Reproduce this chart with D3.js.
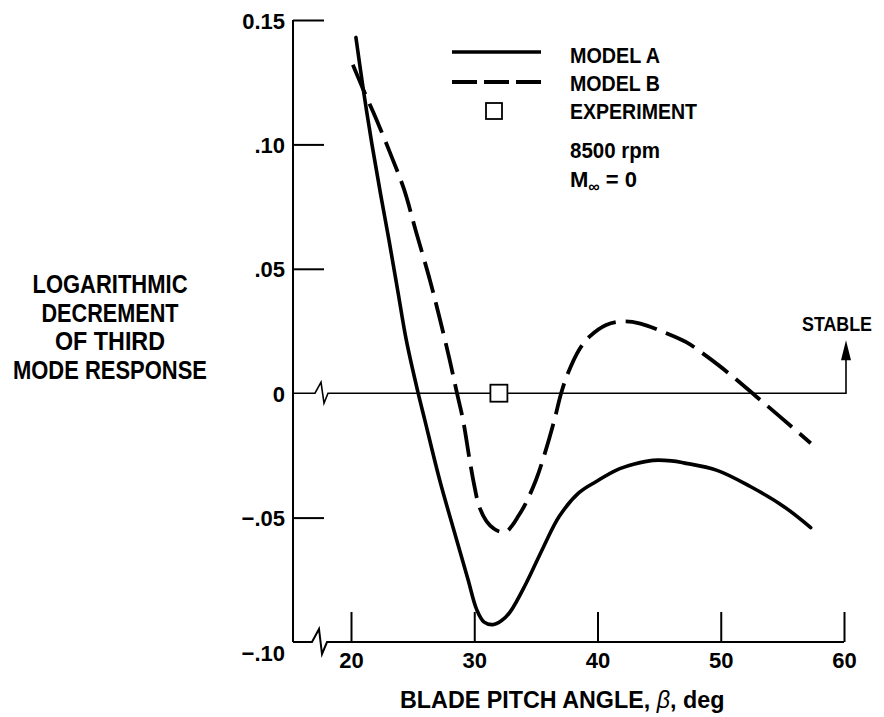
<!DOCTYPE html>
<html>
<head>
<meta charset="utf-8">
<script src="https://cdn.jsdelivr.net/npm/d3@7/dist/d3.min.js"></script>
<style>
  html, body { margin: 0; padding: 0; background: #fff; }
  svg { display: block; }
  text { font-family: 'Liberation Sans Narrow', 'Arial Narrow', 'Liberation Sans', Arial, sans-serif; font-weight: bold; fill: #000; }
</style>
</head>
<body>
<svg id="chart" width="884" height="717"></svg>
<script>
// ---------------- data ----------------
const xTicks = [20, 30, 40, 50, 60];
const xTickLabels = ["20", "30", "40", "50", "60"];
const yTicks = [0.15, 0.10, 0.05, 0, -0.05, -0.10];
const yTickLabels = ["0.15", ".10", ".05", "0", "\u2212.05", "\u2212.10"];

const modelAX = [20.4, 21.0, 21.7, 22.4, 23.1, 23.8, 24.5, 25.45, 26.0, 27.2, 28.4, 29.5, 30.2, 30.8, 31.5, 32.2, 32.9, 34.2, 35.6, 36.9, 38.5, 39.9, 41.5, 43.0, 44.5, 46.0, 47.0, 49.7, 52.4, 55.1, 57.3];
const modelAY = [0.143, 0.122, 0.100, 0.080, 0.061, 0.041, 0.021, 0.0, -0.011, -0.035, -0.056, -0.075, -0.087, -0.092, -0.093, -0.0915, -0.088, -0.0765, -0.062, -0.0495, -0.040, -0.0355, -0.031, -0.0285, -0.027, -0.0272, -0.028, -0.031, -0.0375, -0.0455, -0.054];

const modelBX = [20.15, 21.0, 21.8, 22.4, 23.3, 24.3, 25.3, 26.4, 27.2, 28.0, 28.6, 29.1, 29.6, 30.0, 30.4, 31.0, 31.6, 32.1, 32.6, 33.1, 33.55, 34.1, 35.0, 35.8, 36.5, 37.05, 37.6, 38.5, 39.35, 40.7, 41.9, 43.4, 45.6, 47.2, 48.9, 51.0, 52.9, 54.8, 57.3];
const modelBY = [0.132, 0.122, 0.113, 0.106, 0.095, 0.082, 0.0645, 0.0455, 0.030, 0.0135, 0.0, -0.011, -0.026, -0.037, -0.0455, -0.0515, -0.0545, -0.0557, -0.0557, -0.053, -0.0496, -0.045, -0.035, -0.023, -0.0108, 0.0, 0.008, 0.0174, 0.0227, 0.0274, 0.0288, 0.0281, 0.0241, 0.0205, 0.0147, 0.0066, -0.0014, -0.0094, -0.0201];

const experimentX = [32.0];
const experimentY = [0.0];

const legendLabels = ["MODEL A", "MODEL B", "EXPERIMENT"];
const conditionLabels = ["8500 rpm"];
const yTitleLines = ["LOGARITHMIC", "DECREMENT", "OF THIRD", "MODE RESPONSE"];
const xTitleParts = ["BLADE PITCH ANGLE, ", "\u03B2", ", deg"];

// ---------------- chart ----------------
const svg = d3.select("#chart");
const x = d3.scaleLinear().domain([20, 60]).range([351, 844]);
const y = d3.scaleLinear().domain([-0.10, 0.15]).range([642, 20]);
const axisLeftX = 293;
const ink = "#000";

// Y axis
const yAxis = d3.axisLeft(y).tickValues(yTicks)
  .tickFormat((d, i) => yTickLabels[i])
  .tickSize(-31).tickSizeOuter(0).tickPadding(8);
const gy = svg.append("g").attr("transform", `translate(${axisLeftX},0)`).call(yAxis);
gy.select(".domain").remove();
gy.selectAll(".tick line").attr("stroke", ink).attr("stroke-width", 2)
  .filter(d => d === 0 || d === -0.10).remove();
gy.selectAll(".tick text").attr("font-size", 22).attr("dy", null)
  .attr("y", d => d === -0.10 ? 18 : 8);
gy.attr("font-family", null).attr("font-size", null);

svg.append("line").attr("x1", axisLeftX).attr("x2", axisLeftX)
  .attr("y1", y(0.15)).attr("y2", y(-0.10)).attr("stroke", ink).attr("stroke-width", 2);

// X axis
const xAxis = d3.axisBottom(x).tickValues(xTicks)
  .tickFormat((d, i) => xTickLabels[i])
  .tickSize(-30).tickSizeOuter(0).tickPadding(10);
const gx = svg.append("g").attr("transform", `translate(0,${y(-0.10)})`).call(xAxis);
gx.select(".domain").remove();
gx.selectAll(".tick line").attr("stroke", ink).attr("stroke-width", 2);
gx.selectAll(".tick text").attr("font-size", 22).attr("dy", null).attr("y", 26);
gx.attr("font-family", null).attr("font-size", null);

// Bottom axis line with break
const yb = y(-0.10);
svg.append("path")
  .attr("d", `M${axisLeftX},${yb} L312,${yb} L319,${yb - 13} L322,${yb + 12} L327,${yb} L${x(60)},${yb}`)
  .attr("fill", "none").attr("stroke", ink).attr("stroke-width", 2).attr("stroke-linejoin", "miter");

// Zero line with break and STABLE arrow
const y0 = y(0);
const arrowX = x(60) + 2;
svg.append("path")
  .attr("d", `M${axisLeftX},${y0} L315,${y0} L321,${y0 - 11} L324,${y0 + 10} L328,${y0} L${arrowX},${y0} L${arrowX},${y0 - 34}`)
  .attr("fill", "none").attr("stroke", ink).attr("stroke-width", 1.6);
svg.append("path")
  .attr("d", `M${arrowX},${y0 - 53} L${arrowX - 5},${y0 - 33} L${arrowX + 5},${y0 - 33} Z`)
  .attr("fill", ink);
svg.append("text").attr("x", 837).attr("y", 331).attr("text-anchor", "middle")
  .attr("font-size", 21).attr("textLength", 70).attr("lengthAdjust", "spacingAndGlyphs").text("STABLE");

// Curves
const line = d3.line().x(d => x(d[0])).y(d => y(d[1])).curve(d3.curveCatmullRom.alpha(0.5));
const dataA = modelAX.map((v, i) => [v, modelAY[i]]);
const dataB = modelBX.map((v, i) => [v, modelBY[i]]);
svg.append("path").datum(dataA).attr("d", line)
  .attr("fill", "none").attr("stroke", ink).attr("stroke-width", 3.6).attr("stroke-linecap", "round");
svg.append("path").datum(dataB).attr("d", line)
  .attr("fill", "none").attr("stroke", ink).attr("stroke-width", 3.8)
  .attr("stroke-dasharray", "32,10").attr("stroke-linecap", "butt");

// Experiment
svg.selectAll("rect.exp").data(experimentX).enter().append("rect").attr("class", "exp")
  .attr("x", (d) => x(d) - 8.5).attr("y", (d, i) => y(experimentY[i]) - 8.5)
  .attr("width", 17).attr("height", 17)
  .attr("fill", "#fff").attr("stroke", ink).attr("stroke-width", 1.8);

// Legend
const lgX1 = 452, lgX2 = 541, lgTextX = 570;
svg.append("line").attr("x1", lgX1).attr("x2", lgX2).attr("y1", 52).attr("y2", 52)
  .attr("stroke", ink).attr("stroke-width", 3.6);
svg.append("line").attr("x1", lgX1).attr("x2", lgX2).attr("y1", 82).attr("y2", 82)
  .attr("stroke", ink).attr("stroke-width", 3.8).attr("stroke-dasharray", "25,7");
svg.append("rect").attr("x", 486).attr("y", 103).attr("width", 16).attr("height", 16)
  .attr("fill", "#fff").attr("stroke", ink).attr("stroke-width", 1.8);
const legendY = [62.5, 90.5, 119];
const legendW = [90, 90, 127];
legendLabels.forEach((t, i) => {
  svg.append("text").attr("x", lgTextX).attr("y", legendY[i]).attr("font-size", 22)
    .attr("textLength", legendW[i]).attr("lengthAdjust", "spacingAndGlyphs").text(t);
});
svg.append("text").attr("x", lgTextX).attr("y", 157.5).attr("font-size", 22)
  .attr("textLength", 90).attr("lengthAdjust", "spacingAndGlyphs").text(conditionLabels[0]);
const mt = svg.append("text").attr("x", lgTextX).attr("y", 186.5).attr("font-size", 22);
mt.append("tspan").text("M");
mt.append("tspan").attr("font-size", 16).attr("dy", 5).text("\u221E");
mt.append("tspan").attr("dy", -5).text(" = 0");

// Y title
const yTitleY = [293, 321.5, 350, 378.5];
const yTitleW = [155, 137, 110, 194];
yTitleLines.forEach((t, i) => {
  svg.append("text").attr("x", 110).attr("y", yTitleY[i]).attr("text-anchor", "middle")
    .attr("font-size", 26).attr("textLength", yTitleW[i]).attr("lengthAdjust", "spacingAndGlyphs").text(t);
});

// X title
const xt = svg.append("text").attr("x", 400).attr("y", 707.5).attr("font-size", 23.3);
xt.append("tspan").text(xTitleParts[0]);
xt.append("tspan").attr("font-style", "italic").attr("font-weight", "normal").text(xTitleParts[1]);
xt.append("tspan").text(xTitleParts[2]);
</script>
</body>
</html>
